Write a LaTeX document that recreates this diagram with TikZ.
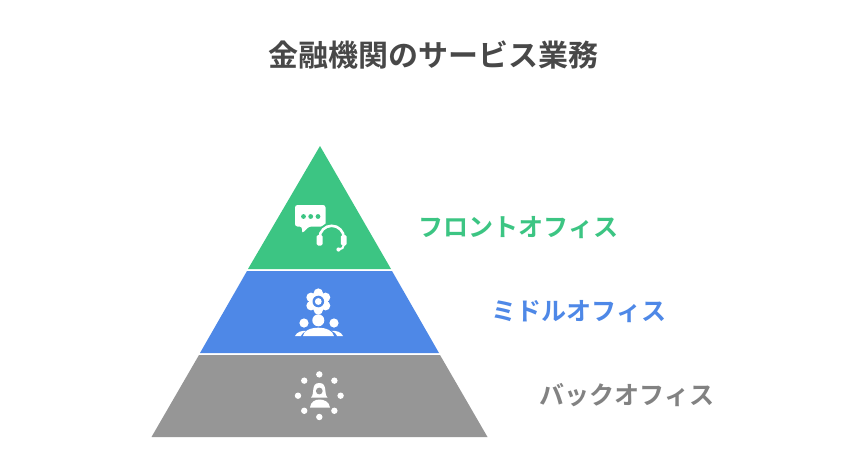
\documentclass[tikz,border=0pt]{standalone}
\usepackage{fontspec}
\setmainfont{Noto Sans CJK JP Bold}
\definecolor{cgreen}{HTML}{3CC583}
\definecolor{cblue}{HTML}{4E88E7}
\definecolor{cgray}{HTML}{969696}
\definecolor{lgray}{HTML}{828282}
\definecolor{ctitle}{HTML}{484848}
\tikzset{
  lbl/.style={anchor=west,inner sep=0pt,font=\fontsize{25.05}{26}\selectfont}
}
\begin{document}
\begin{tikzpicture}[x=1pt,y=-1pt]
\useasboundingbox (0,0) rectangle (843,474);
\fill[white] (0,0) rectangle (843,474);
\node[inner sep=0pt,text=ctitle,font=\fontsize{30}{32}\selectfont] (title) at (433.5,55) {金融機関のサービス業務};
% pyramid
\fill[cgreen] (320,146) -- (391,269) -- (248,269) -- cycle;
\fill[cblue] (247,271) -- (392,271) -- (439,353) -- (200,353) -- cycle;
\fill[cgray] (199,355) -- (440,355) -- (487.5,437) -- (151.5,437) -- cycle;
% labels
\node[lbl,text=cgreen] (front) at (418,228) {フロントオフィス};
\node[lbl,text=cblue] (middle) at (491.5,312) {ミドルオフィス};
\node[lbl,text=lgray] (back) at (539.5,395.5) {バックオフィス};
% icon 1: bubble
\fill[white,rounded corners=2.5pt] (295,205) -- (325.5,205) -- (325.5,226.5) -- (309,226.5) -- (302,233.5) -- (302,226.5) -- (295,226.5) -- cycle;
\foreach \x in {303.5,310.7,318} \fill[cgreen] (\x,216.5) circle (2.4);
% headset
\draw[cgreen,line width=6.5pt] (319.5,238) arc[start angle=180,end angle=360,radius=12.2];
\draw[white,line width=2.6pt] (319.5,238) arc[start angle=180,end angle=360,radius=12.2];
\fill[white,rounded corners=1.5pt] (316.7,235) rectangle (322.7,245.5);
\fill[white,rounded corners=1.5pt] (340.8,235) rectangle (346.5,245.5);
\draw[white,line width=2pt,line cap=round] (344,244.5) arc[start angle=0,end angle=90,radius=5];
\fill[white] (338.5,249.5) circle (2.1);
% icon 2: flower
\foreach \a in {30,90,...,330} \fill[white] (318.3,301.5) ++(\a:8.4) circle (4.7);
\fill[white] (318.3,301.5) circle (9.5);
\fill[cblue] (318.3,301.5) circle (5.8);
\fill[white] (318.3,301.5) circle (3.4);
% people
\fill[white] (304,323) circle (4.6);
\fill[white] (318.3,320.3) circle (6);
\fill[white] (334,323) circle (4.6);
\fill[white] (303,336) .. controls (303.5,331) and (310,327.7) .. (318.3,327.7) .. controls (326.5,327.7) and (333,331) .. (334,336) -- cycle;
\fill[white] (295,336) .. controls (297,332) and (301,330.5) .. (307,330.8) .. controls (303.5,332) and (301.5,334) .. (300.8,336) -- cycle;
\fill[white] (343,336) .. controls (341,332) and (337,330.5) .. (331,330.8) .. controls (334.5,332) and (336.5,334) .. (337.2,336) -- cycle;
% icon 3
\foreach \a in {0,45,...,315} \fill[white] (319.3,395.7) ++(\a:21.3) circle (3.2);
\fill[white] (311,397.5) .. controls (315,394) and (310.5,383) .. (319.3,383) .. controls (328,383) and (323.5,394) .. (327.5,397.5) -- cycle;
\fill[cgray] (319.3,391) circle (3.4);
\fill[white] (310,407.5) .. controls (310.5,402) and (315,399.5) .. (319.5,399.5) .. controls (324,399.5) and (329.5,402) .. (330,407.5) -- cycle;
\end{tikzpicture}
\end{document}
